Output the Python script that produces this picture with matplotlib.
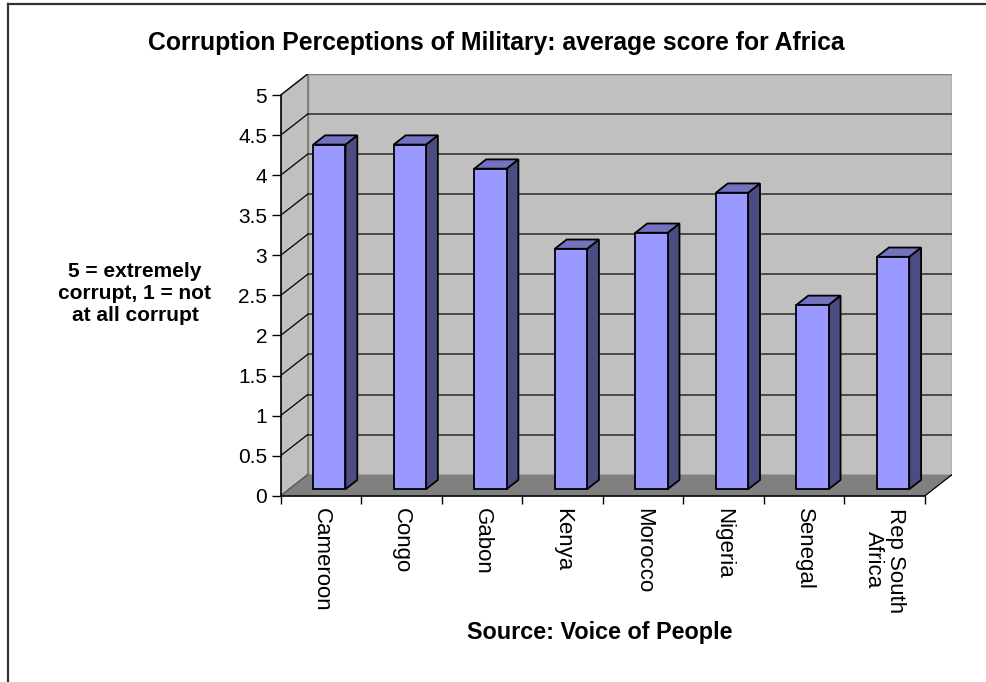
import numpy as np
import matplotlib
matplotlib.use('Agg')
import matplotlib.pyplot as plt
from matplotlib.patches import Polygon
from matplotlib.lines import Line2D

plt.rcParams['font.family'] = ['Liberation Sans', 'DejaVu Sans']

countries = ['Cameroon', 'Congo', 'Gabon', 'Kenya', 'Morocco', 'Nigeria',
             'Senegal', 'Rep South\nAfrica']
scores = [4.3, 4.3, 4.0, 3.0, 3.2, 3.7, 2.3, 2.9]
y_ticks = [0, 0.5, 1, 1.5, 2, 2.5, 3, 3.5, 4, 4.5, 5]
y_labels = ['0', '0.5', '1', '1.5', '2', '2.5', '3', '3.5', '4', '4.5', '5']

# depth of the 3d box in data units
DX = 0.335
DY = 0.2625
# bar depth range (fraction of box depth) and width
D0, D1 = 0.31, 0.75
BW = 0.4

W, H = 986, 682
fig = plt.figure(figsize=(W / 100, H / 100), dpi=100)
fig.patch.set_facecolor('white')

# axes placed in pixel terms
x0, x1 = 280.7, 952.0
ytop, ybot = 74.0, 495.7
ax = fig.add_axes([x0 / W, (H - ybot) / H, (x1 - x0) / W, (ybot - ytop) / H])
ax.set_xlim(-0.5, 7.5 + DX)
ax.set_ylim(0, 5 + DY)
ax.patch.set_alpha(0)

n = len(countries)
xl, xr = -0.5, n - 0.5

# walls and floor
back = Polygon([(xl + DX, DY), (xr + DX, DY), (xr + DX, 5 + DY), (xl + DX, 5 + DY)],
               closed=True, facecolor='#C0C0C0', edgecolor='#808080', lw=1, zorder=1)
left = Polygon([(xl, 0), (xl + DX, DY), (xl + DX, 5 + DY), (xl, 5)],
               closed=True, facecolor='#C0C0C0', edgecolor='#808080', lw=1, zorder=1)
ax.add_patch(back)
ax.add_patch(left)

for v in y_ticks[1:]:
    if v < 5:
        ax.plot([xl + DX, xr + DX], [v + DY, v + DY], color='#2a2a2a', lw=1.1, zorder=2)
    ax.plot([xl, xl + DX], [v, v + DY], color='black', lw=0.9, zorder=2)

floor = Polygon([(xl, 0), (xr, 0), (xr + DX, DY), (xl + DX, DY)],
                closed=True, facecolor='#808080', edgecolor='none', zorder=3)
ax.add_patch(floor)
ax.plot([xl, xl + DX], [0, DY], color='#555555', lw=0.9, zorder=3)
ax.plot([xr, xr + DX], [0, DY], color='black', lw=0.9, zorder=3)

# bars
xs = np.arange(n)
ax.bar(xs + D0 * DX, scores, width=BW, bottom=D0 * DY, color='#9999FF',
       edgecolor='black', linewidth=1.3, zorder=5)
dd = D1 - D0
for x, v in zip(xs, scores):
    fx = x + D0 * DX + BW / 2
    fy0 = D0 * DY
    fy1 = v + D0 * DY
    side = Polygon([(fx, fy0), (fx + dd * DX, fy0 + dd * DY),
                    (fx + dd * DX, fy1 + dd * DY), (fx, fy1)],
                   closed=True, facecolor='#4C4C80', edgecolor='black', lw=1.3, zorder=4)
    top = Polygon([(fx - BW, fy1), (fx, fy1), (fx + dd * DX, fy1 + dd * DY),
                   (fx - BW + dd * DX, fy1 + dd * DY)],
                  closed=True, facecolor='#7373C0', edgecolor='black', lw=1.3, zorder=4)
    ax.add_patch(side)
    ax.add_patch(top)

# axes lines, ticks
for s in ['top', 'right']:
    ax.spines[s].set_visible(False)
ax.spines['left'].set_bounds(0, 5)
ax.spines['bottom'].set_bounds(xl, xr)
ax.spines['left'].set_zorder(6)
ax.spines['bottom'].set_zorder(6)
ax.spines['left'].set_linewidth(1.2)
ax.spines['bottom'].set_linewidth(1.2)

ax.set_yticks(y_ticks)
ax.set_yticklabels(y_labels, fontsize=15)
ax.tick_params(axis='y', length=6.5, width=1, pad=3.2, direction='out')

ax.set_xticks(np.arange(n + 1) - 0.5)
ax.set_xticklabels([])
ax.set_xticks(xs, minor=True)
ax.set_xticklabels(countries, minor=True, rotation=-90, fontsize=16,
                   va='top', ha='center', linespacing=1.05)
ax.tick_params(axis='x', which='major', length=5.8, width=1, direction='out')
ax.tick_params(axis='x', which='minor', length=0, pad=8.5)

# texts
fig.text(496 / W, 1 - 43 / H, 'Corruption Perceptions of Military: average score for Africa',
         fontsize=17.8, fontweight='bold', ha='center', va='center')
fig.text(135 / W, 1 - 293 / H, '5 = extremely\ncorrupt, 1 = not\nat all corrupt',
         fontsize=15, fontweight='bold', ha='center', va='center',
         multialignment='center', linespacing=1.2)
fig.text(600 / W, 1 - 633 / H, 'Source: Voice of People',
         fontsize=16.8, fontweight='bold', ha='center', va='center')

# outer frame (top and left edge visible)
fig.add_artist(Line2D([8 / W, 1], [1 - 3.5 / H, 1 - 3.5 / H], color='#333333', lw=1.6,
                      transform=fig.transFigure))
fig.add_artist(Line2D([8 / W, 8 / W], [0, 1 - 3.5 / H], color='#333333', lw=1.6,
                      transform=fig.transFigure))

fig.savefig('out.png', dpi=100)
